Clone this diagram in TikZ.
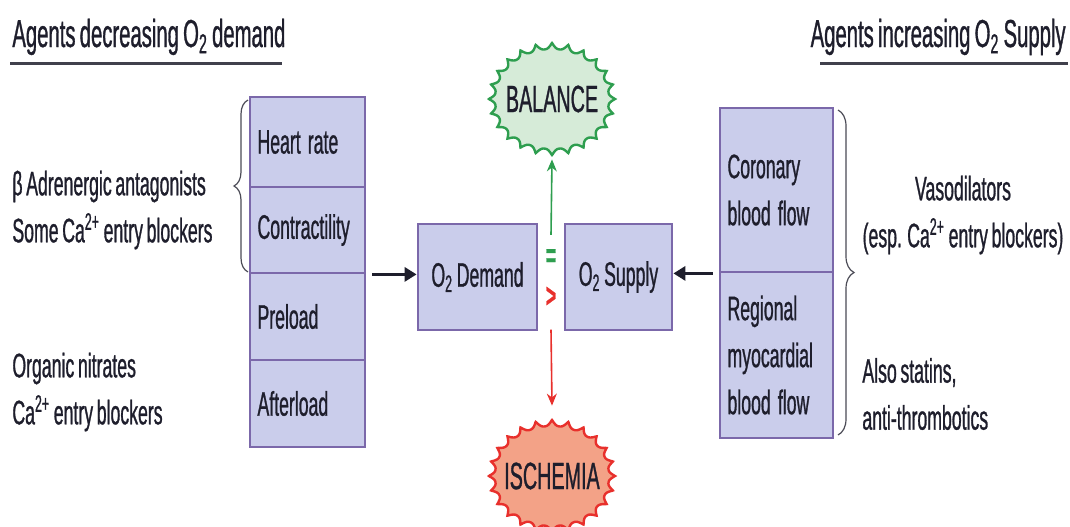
\documentclass[tikz,border=0pt]{standalone}
\usepackage{fontspec}
\setmainfont{Liberation Sans}[FakeStretch=0.52, FakeBold=0.8, WordSpace=0.75]
\usepackage{tikz}
\usetikzlibrary{calc,arrows.meta,decorations.pathreplacing}
\definecolor{boxfill}{HTML}{CACDEB}
\definecolor{boxline}{HTML}{7B68AA}
\definecolor{ink}{HTML}{1E1E2C}
\definecolor{okgreen}{HTML}{2E9E4F}
\definecolor{okfill}{HTML}{D6EBD8}
\definecolor{badred}{HTML}{E8302C}
\definecolor{badfill}{HTML}{F3A287}
\tikzset{
  factor/.style={draw=boxline, fill=boxfill, line width=1.4pt, text width=50pt,
    inner xsep=3.75pt, align=left, text=ink, font=\fontsize{17}{23.5}\selectfont},
  o2box/.style={draw=boxline, fill=boxfill, line width=1.4pt, minimum height=53pt,
    inner sep=0pt, text=ink, font=\fontsize{17}{23.5}\selectfont},
  agents/.style={inner sep=0pt, text=ink, font=\fontsize{17}{23.5}\selectfont},
  heading/.style={inner sep=0pt, text=ink, font=\fontsize{19.5}{22}\selectfont},
  rule/.style={line width=1.5pt, draw=ink!85},
  bigarrow/.style={-{Triangle[length=6pt,width=7pt]}, line width=1.6pt, draw=ink},
  thinarrow/.style={-{Stealth[length=6pt,width=5pt]}, line width=0.8pt},
  curly/.style={decorate, draw=ink!80, line width=0.6pt},
  burstlabel/.style={inner sep=0pt, minimum width=60pt, text=ink,
    font=\fontsize{19}{22}\selectfont}
}
% word space inside the boxes (align=left widens it)
\newcommand{\tight}{\spaceskip=0.21em\relax}
% wavy outline of BALANCE / ISCHEMIA
\newcommand{\starburst}[2]{%
  \begin{scope}[shift={#1}]
    \filldraw[#2] plot[domain=0:360, samples=289, variable=\t, smooth]
      ({(57+6*(1-abs(sin(12*\t)))^1.3)*cos(\t)}, {(50+6*(1-abs(sin(12*\t)))^1.3)*sin(\t)}) -- cycle;
  \end{scope}%
}

\begin{document}
\begin{tikzpicture}[x=0.5pt, y=-0.5pt]

  \useasboundingbox (0,0) rectangle (1070,526);
  \fill[white] (0,0) rectangle (1070,526);

  % headings
  \node[heading, anchor=base west] (hdemand) at (12,47) {Agents decreasing O\textsubscript{2} demand};
  \node[heading, anchor=base east] (hsupply) at (1066,47) {Agents increasing O\textsubscript{2} Supply};
  \draw[rule] (10,63) -- (282,63);
  \draw[rule] (820,63) -- (1068,63);

  % determinants of demand
  \node[factor, minimum height=45pt]   (hr) at (307.5,142)   {\tight Heart rate};
  \node[factor, minimum height=43pt]   (ct) at (307.5,230)   {\tight Contractility};
  \node[factor, minimum height=43.5pt] (pl) at (307.5,316.5) {\tight Preload};
  \node[factor, minimum height=43.5pt] (al) at (307.5,403.5) {\tight Afterload};

  % determinants of supply
  \node[factor, text width=49pt, minimum height=82pt] (cbf) at (776.5,190) {\tight Coronary\\blood flow};
  \node[factor, text width=49pt, minimum height=83pt] (rbf) at (776.5,355) {\tight Regional\\myocardial\\blood flow};

  % drug classes
  \node[agents, anchor=west, align=left] (beta) at (12,210)
    {β Adrenergic antagonists\\Some Ca\textsuperscript{2+} entry blockers};
  \node[agents, anchor=west, align=left] (nitr) at (12,392)
    {Organic nitrates\\Ca\textsuperscript{2+} entry blockers};
  \node[agents, align=center] (vaso) at (963,215)
    {Vasodilators\\(esp. Ca\textsuperscript{2+} entry blockers)};
  \node[agents, anchor=west, align=left] (stat) at (862,394)
    {Also statins,\\anti-thrombotics};

  \draw[curly, decoration={brace, amplitude=7pt}] (248,272) -- (248,100);
  \draw[curly, decoration={brace, amplitude=8pt}] (838,110) -- (838,435);

  % demand vs supply
  \node[o2box, minimum width=59.5pt] (demand) at (477.5,277) {O\textsubscript{2} Demand};
  \node[o2box, minimum width=53.5pt] (supply) at (618.5,277) {O\textsubscript{2} Supply};
  \node[inner sep=1pt, text=okgreen, font=\fontsize{17}{20}\selectfont\bfseries] (eq) at (551,258) {=};
  \node[inner sep=1pt, text=badred, font=\fontsize{17}{20}\selectfont\bfseries] (gt) at (551,297) {>};

  \draw[bigarrow] ([xshift=3pt]ct.south east) -- (ct.south east -| demand.west);
  \draw[bigarrow] ([xshift=-3pt]cbf.south west) -- (cbf.south west -| supply.east);

  % outcomes
  \starburst{(552,99)}{draw=okgreen, fill=okfill, line width=1.2pt}
  \starburst{(552,476)}{draw=badred, fill=badfill, line width=1.2pt}
  \node[burstlabel, minimum height=56pt] (balance) at (552,99) {BALANCE};
  \node[burstlabel, minimum height=58pt] (ischemia) at (552,476) {ISCHEMIA};

  \draw[thinarrow, okgreen] ([yshift=6pt]eq.north) -- ([yshift=-2pt]balance.south);
  \draw[thinarrow, badred] ([yshift=-10pt]gt.south) -- ([yshift=6pt]ischemia.north);

\end{tikzpicture}
\end{document}
